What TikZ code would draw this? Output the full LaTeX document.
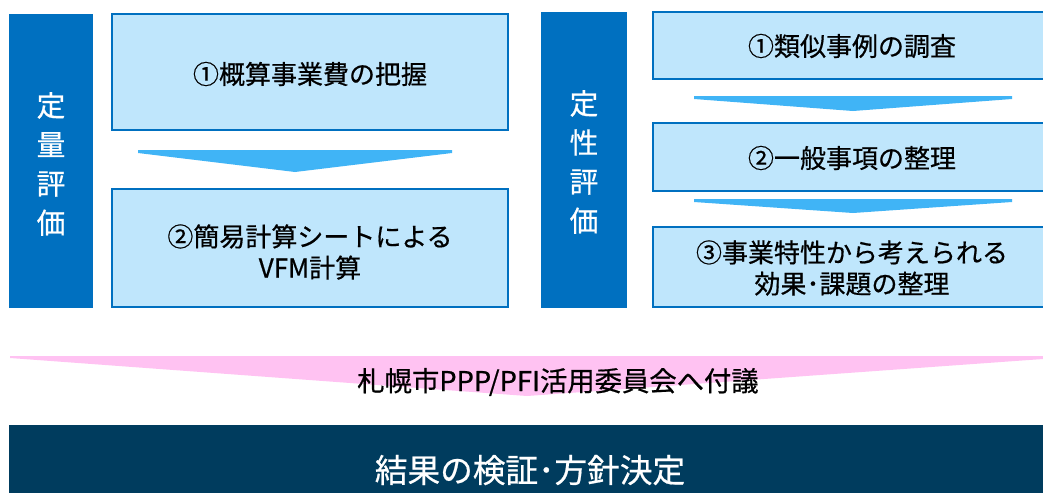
\documentclass[tikz,border=0pt]{standalone}
\usepackage{fontspec}
\setmainfont{Noto Sans CJK JP}[FakeBold=0.5]
\newfontfamily\medfont{Noto Sans CJK JP}[FakeBold=0.6]
\definecolor{barblue}{HTML}{0070C0}
\definecolor{boxfill}{HTML}{BFE6FC}
\definecolor{arrowblue}{HTML}{40B4F6}
\definecolor{pinkband}{HTML}{FFC2F2}
\definecolor{darkbar}{HTML}{003C5E}
\tikzset{
  sidebar/.style={fill=barblue, draw=none},
  sidetext/.style={text=white, align=center, font=\medfont\fontsize{21.5pt}{29.3pt}\selectfont},
  stepbox/.style={fill=boxfill, draw=barblue, line width=1.1pt},
  steptext/.style={text=black, align=center, font=\medfont\fontsize{19.5pt}{23.4pt}\selectfont},
  chevron/.style={fill=arrowblue, draw=none},
}
\begin{document}
\begin{tikzpicture}[x=0.75pt, y=-0.75pt]
\clip (0,0) rectangle (1043,493);
\fill[white] (0,0) rectangle (1043,493);
% left side
\fill[sidebar] (9,14) rectangle (93,308);
\node[sidetext] (qn) at (51,164) {定\\量\\評\\価};
\draw[stepbox] (112,14) rectangle (508,130);
\node[steptext] (l1) at (310,74) {①概算事業費の把握};
\fill[chevron] (138,150) -- (452,150) -- (452,153) -- (295,172) -- (138,153) -- cycle;
\draw[stepbox] (112,189) rectangle (508,307);
\node[steptext] (l2) at (310,252) {②簡易計算シートによる\\VFM計算};
% right side
\fill[sidebar] (541,12) rectangle (627,308);
\node[sidetext] (ql) at (584,162) {定\\性\\評\\価};
\draw[stepbox] (653,12) rectangle (1051,79);
\node[steptext] (r1) at (852,46) {①類似事例の調査};
\fill[chevron] (694,96) -- (1012,96) -- (1012,99) -- (853,111) -- (694,99) -- cycle;
\draw[stepbox] (653,123) rectangle (1051,191);
\node[steptext] (r2) at (852,158) {②一般事項の整理};
\fill[chevron] (694,199) -- (1012,199) -- (1012,202) -- (853,213) -- (694,202) -- cycle;
\draw[stepbox] (653,227) rectangle (1051,307);
\node[steptext] (r3) at (852,268) {③事業特性から考えられる\\効果･課題の整理};
% pink band
\fill[pinkband] (10,356) -- (1043,356) -- (1043,359) -- (527,396) -- (10,358) -- cycle;
\node[text=black, font=\medfont\fontsize{20.5pt}{24pt}\selectfont] (pt) at (558,382) {札幌市PPP/PFI活用委員会へ付議};
% bottom bar
\fill[darkbar] (9,425) rectangle (1043,493);
\node[text=white, font=\medfont\fontsize{24.5pt}{28pt}\selectfont] (bt) at (530,470) {結果の検証･方針決定};
\end{tikzpicture}
\end{document}
